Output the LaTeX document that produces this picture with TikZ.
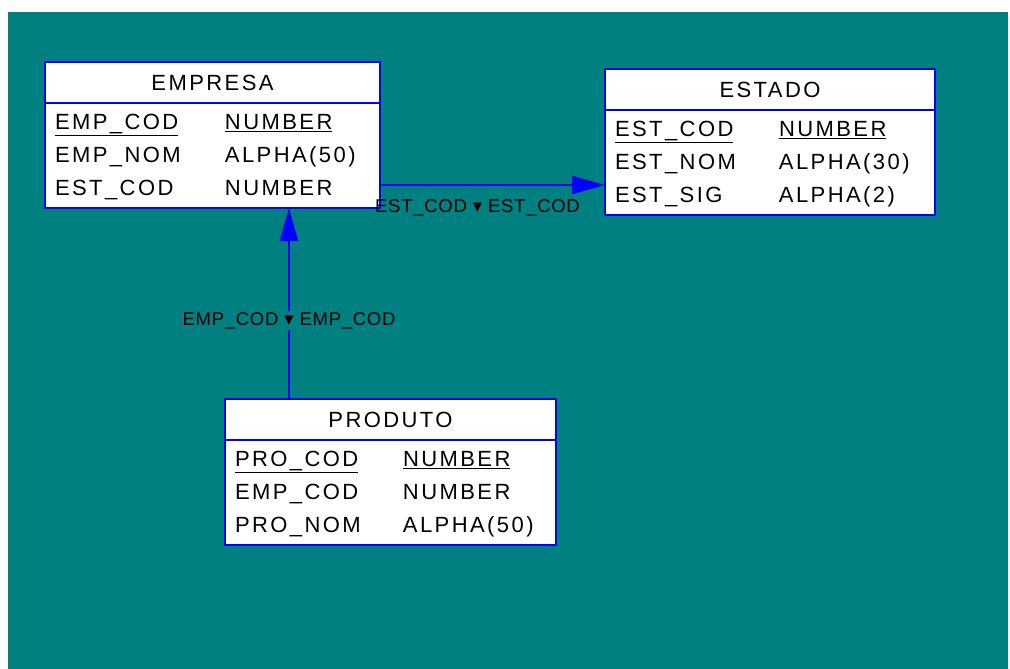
\documentclass[tikz,border=0pt]{standalone}
\usepackage{fontspec}
\setmainfont{Liberation Sans}
\newfontfamily\erfont[LetterSpace=11]{Liberation Sans}
\newfontfamily\lblfont[LetterSpace=4]{Liberation Sans}
\newfontfamily\symfont{DejaVu Sans}
\usetikzlibrary{arrows.meta, positioning}
\definecolor{erteal}{RGB}{0,128,128}
\definecolor{erblue}{RGB}{0,0,255}

\begin{document}
\begin{tikzpicture}[
    x=1pt, y=-1pt,
    title/.style={rectangle, draw=erblue, fill=white, line width=2.5pt, outer sep=0pt, minimum height=41pt, font=\erfont\fontsize{22}{33}\selectfont},
    attrs/.style={rectangle, draw=erblue, fill=white, line width=2.5pt, outer sep=0pt, minimum height=105pt, inner xsep=10pt, inner ysep=0pt, align=left, font=\erfont\fontsize{22}{33}\selectfont},
    fk/.style={-{Triangle[length=33pt, width=18pt]}, erblue, line width=2.2pt},
    fklabel/.style={text=black, font=\lblfont\fontsize{18.5}{20}\selectfont, inner sep=1pt},
]

% === Background ===
\useasboundingbox (0,0) rectangle (1010,669);
\fill[white] (0,0) rectangle (1010,669);
\fill[erteal] (8,12) rectangle (1008,669);

% === Entities ===
\node[title, minimum width=335pt] (emp) at (212.5, 82.5) {EMPRESA};
\node[attrs, text width=315pt, below=0pt of emp] (empa) {%
\begin{tabular}{@{}p{170pt}@{}l@{}}
\underline{EMP\_COD} & \underline{NUMBER}\\
EMP\_NOM & ALPHA(50)\\
EST\_COD & NUMBER
\end{tabular}};

\node[title, minimum width=330pt] (est) at (770, 89.5) {ESTADO};
\node[attrs, text width=310pt, below=0pt of est] (esta) {%
\begin{tabular}{@{}p{164pt}@{}l@{}}
\underline{EST\_COD} & \underline{NUMBER}\\
EST\_NOM & ALPHA(30)\\
EST\_SIG & ALPHA(2)
\end{tabular}};

\node[title, minimum width=331pt] (pro) at (390.5, 419.5) {PRODUTO};
\node[attrs, text width=311pt, below=0pt of pro] (proa) {%
\begin{tabular}{@{}p{168pt}@{}l@{}}
\underline{PRO\_COD} & \underline{NUMBER}\\
EMP\_COD & NUMBER\\
PRO\_NOM & ALPHA(50)
\end{tabular}};

% === Foreign keys ===
\draw[fk] ([yshift=-29.5pt]empa.east) -- ([yshift=-29.5pt]empa.east -| esta.west)
    node[fklabel, midway, below=12pt, xshift=-15pt] {EST\_COD {\symfont ▾} EST\_COD};
\draw[fk] ([xshift=-101.5pt]pro.north) -- ([xshift=-101.5pt]pro.north |- empa.south)
    node[fklabel, pos=0.41, fill=erteal] {EMP\_COD {\symfont ▾} EMP\_COD};

\end{tikzpicture}
\end{document}
